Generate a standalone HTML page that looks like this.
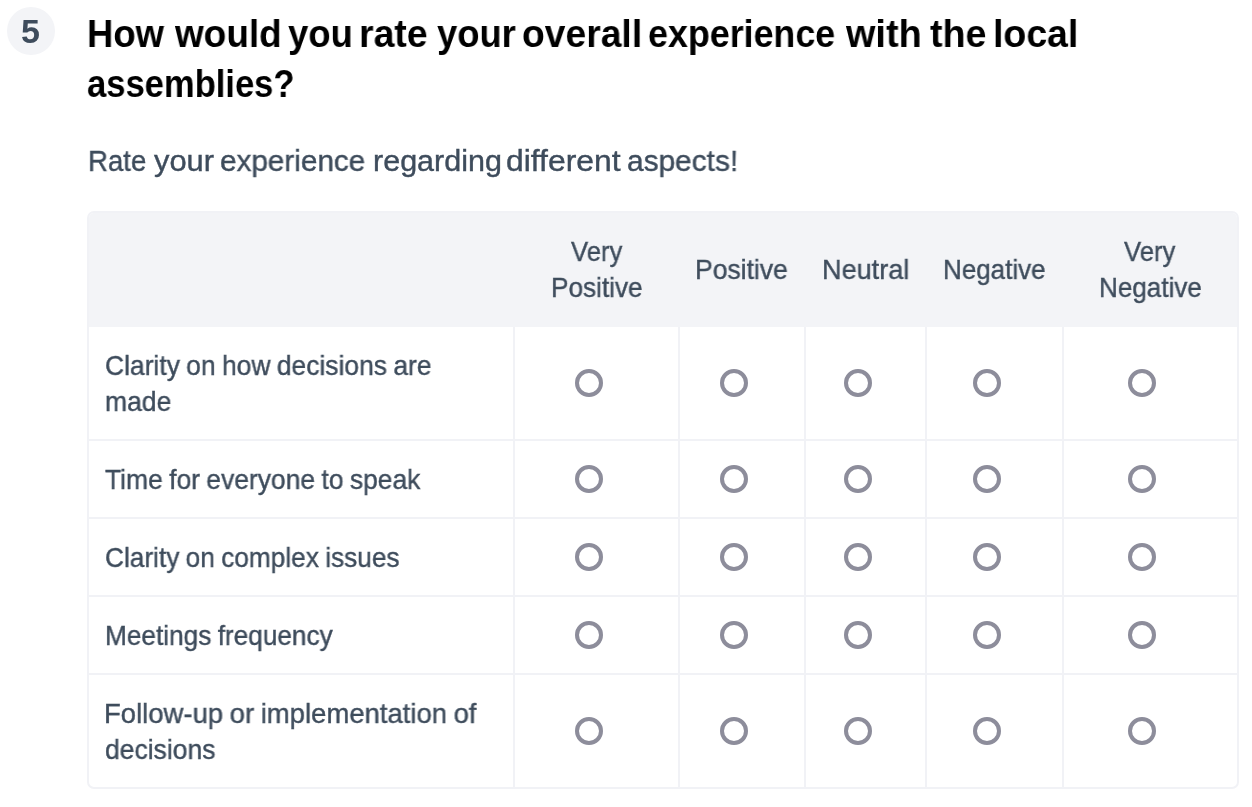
<!DOCTYPE html>
<html><head><meta charset="utf-8"><style>
html,body{margin:0;padding:0;background:#fff;width:1252px;height:807px;overflow:hidden;position:relative}
.t{position:absolute;white-space:nowrap;font-family:"Liberation Sans",sans-serif;transform-origin:0 0;-webkit-font-smoothing:antialiased;will-change:transform}
.n{-webkit-text-stroke:0.4px currentColor}
.b{position:absolute;background:#f1f2f6}
.r{position:absolute;width:28px;height:28px;box-sizing:border-box;border:4px solid #8d8d9b;border-radius:50%}
</style></head><body>
<div style="position:absolute;left:7px;top:7px;width:48px;height:48px;border-radius:50%;background:#f3f4f7"></div>
<div style="position:absolute;left:87px;top:211px;width:1152px;height:578px;box-sizing:border-box;border:2px solid #f1f2f6;border-radius:7px;overflow:hidden">
<div style="position:absolute;left:0;top:0;right:0;height:114px;background:#f3f4f7"></div>
</div>
<div class="b" style="left:513px;top:327px;width:2px;height:460px"></div>
<div class="b" style="left:678px;top:327px;width:2px;height:460px"></div>
<div class="b" style="left:804px;top:327px;width:2px;height:460px"></div>
<div class="b" style="left:925px;top:327px;width:2px;height:460px"></div>
<div class="b" style="left:1062px;top:327px;width:2px;height:460px"></div>
<div class="b" style="left:89px;top:439px;width:1148px;height:2px"></div>
<div class="b" style="left:89px;top:517px;width:1148px;height:2px"></div>
<div class="b" style="left:89px;top:595px;width:1148px;height:2px"></div>
<div class="b" style="left:89px;top:673px;width:1148px;height:2px"></div>
<div class="r" style="left:575.00px;top:369.00px"></div>
<div class="r" style="left:719.50px;top:369.00px"></div>
<div class="r" style="left:843.50px;top:369.00px"></div>
<div class="r" style="left:972.50px;top:369.00px"></div>
<div class="r" style="left:1128.00px;top:369.00px"></div>
<div class="r" style="left:575.00px;top:465.00px"></div>
<div class="r" style="left:719.50px;top:465.00px"></div>
<div class="r" style="left:843.50px;top:465.00px"></div>
<div class="r" style="left:972.50px;top:465.00px"></div>
<div class="r" style="left:1128.00px;top:465.00px"></div>
<div class="r" style="left:575.00px;top:543.00px"></div>
<div class="r" style="left:719.50px;top:543.00px"></div>
<div class="r" style="left:843.50px;top:543.00px"></div>
<div class="r" style="left:972.50px;top:543.00px"></div>
<div class="r" style="left:1128.00px;top:543.00px"></div>
<div class="r" style="left:575.00px;top:621.00px"></div>
<div class="r" style="left:719.50px;top:621.00px"></div>
<div class="r" style="left:843.50px;top:621.00px"></div>
<div class="r" style="left:972.50px;top:621.00px"></div>
<div class="r" style="left:1128.00px;top:621.00px"></div>
<div class="r" style="left:575.00px;top:717.00px"></div>
<div class="r" style="left:719.50px;top:717.00px"></div>
<div class="r" style="left:843.50px;top:717.00px"></div>
<div class="r" style="left:972.50px;top:717.00px"></div>
<div class="r" style="left:1128.00px;top:717.00px"></div>
<div id="five" class="t" style="left:20.70px;top:12.42px;font-size:34px;line-height:37.984px;font-weight:700;color:#3e4c5c;transform:scaleX(0.9753);word-spacing:0px">5</div>
<div id="t1_0" class="t" style="left:87.12px;top:11.69px;font-size:39px;line-height:43.570px;font-weight:700;color:#000;transform:scaleX(0.9341);word-spacing:0px">How</div>
<div id="t1_1" class="t" style="left:174.96px;top:11.69px;font-size:39px;line-height:43.570px;font-weight:700;color:#000;transform:scaleX(0.9474);word-spacing:0px">would</div>
<div id="t1_2" class="t" style="left:288.38px;top:11.69px;font-size:39px;line-height:43.570px;font-weight:700;color:#000;transform:scaleX(0.9349);word-spacing:0px">you</div>
<div id="t1_3" class="t" style="left:359.19px;top:11.69px;font-size:39px;line-height:43.570px;font-weight:700;color:#000;transform:scaleX(0.9602);word-spacing:0px">rate</div>
<div id="t1_4" class="t" style="left:437.38px;top:11.69px;font-size:39px;line-height:43.570px;font-weight:700;color:#000;transform:scaleX(0.9332);word-spacing:0px">your</div>
<div id="t1_5" class="t" style="left:522.25px;top:11.69px;font-size:39px;line-height:43.570px;font-weight:700;color:#000;transform:scaleX(0.9553);word-spacing:0px">overall</div>
<div id="t1_6" class="t" style="left:648.20px;top:11.69px;font-size:39px;line-height:43.570px;font-weight:700;color:#000;transform:scaleX(0.9185);word-spacing:0px">experience</div>
<div id="t1_7" class="t" style="left:846.06px;top:11.69px;font-size:39px;line-height:43.570px;font-weight:700;color:#000;transform:scaleX(0.9701);word-spacing:0px">with</div>
<div id="t1_8" class="t" style="left:930.10px;top:11.69px;font-size:39px;line-height:43.570px;font-weight:700;color:#000;transform:scaleX(0.9656);word-spacing:0px">the</div>
<div id="t1_9" class="t" style="left:993.41px;top:11.69px;font-size:39px;line-height:43.570px;font-weight:700;color:#000;transform:scaleX(0.9601);word-spacing:0px">local</div>
<div id="title2" class="t" style="left:87.40px;top:61.69px;font-size:39px;line-height:43.570px;font-weight:700;color:#000;transform:scaleX(0.8864);word-spacing:-3.9px">assemblies?</div>
<div id="sub_0" class="t n" style="left:87.58px;top:144.04px;font-size:30px;line-height:33.516px;font-weight:400;color:#3e4c5c;transform:scaleX(0.9189);word-spacing:0px">Rate</div>
<div id="sub_1" class="t n" style="left:153.71px;top:144.04px;font-size:30px;line-height:33.516px;font-weight:400;color:#3e4c5c;transform:scaleX(1.0279);word-spacing:0px">your</div>
<div id="sub_2" class="t n" style="left:220.40px;top:144.04px;font-size:30px;line-height:33.516px;font-weight:400;color:#3e4c5c;transform:scaleX(0.9895);word-spacing:0px">experience</div>
<div id="sub_3" class="t n" style="left:373.19px;top:144.04px;font-size:30px;line-height:33.516px;font-weight:400;color:#3e4c5c;transform:scaleX(1.017);word-spacing:0px">regarding</div>
<div id="sub_4" class="t n" style="left:506.00px;top:144.04px;font-size:30px;line-height:33.516px;font-weight:400;color:#3e4c5c;transform:scaleX(1.0623);word-spacing:0px">different</div>
<div id="sub_5" class="t n" style="left:627.00px;top:144.04px;font-size:30px;line-height:33.516px;font-weight:400;color:#3e4c5c;transform:scaleX(0.9947);word-spacing:0px">aspects!</div>
<div id="h2a" class="t n" style="left:571.08px;top:236.81px;font-size:27.6px;line-height:30.834px;font-weight:400;color:#3e4c5c;transform:scaleX(0.9287);word-spacing:-1px">Very</div>
<div id="h2b" class="t n" style="left:551.36px;top:272.81px;font-size:27.6px;line-height:30.834px;font-weight:400;color:#3e4c5c;transform:scaleX(0.9479);word-spacing:-1px">Positive</div>
<div id="h3" class="t n" style="left:695.40px;top:255.31px;font-size:27.6px;line-height:30.834px;font-weight:400;color:#3e4c5c;transform:scaleX(0.9605);word-spacing:-1px">Positive</div>
<div id="h4" class="t n" style="left:821.80px;top:255.31px;font-size:27.6px;line-height:30.834px;font-weight:400;color:#3e4c5c;transform:scaleX(0.9824);word-spacing:-1px">Neutral</div>
<div id="h5" class="t n" style="left:943.36px;top:255.31px;font-size:27.6px;line-height:30.834px;font-weight:400;color:#3e4c5c;transform:scaleX(0.9421);word-spacing:-1px">Negative</div>
<div id="h6a" class="t n" style="left:1124.48px;top:236.81px;font-size:27.6px;line-height:30.834px;font-weight:400;color:#3e4c5c;transform:scaleX(0.9287);word-spacing:-1px">Very</div>
<div id="h6b" class="t n" style="left:1099.26px;top:272.81px;font-size:27.6px;line-height:30.834px;font-weight:400;color:#3e4c5c;transform:scaleX(0.9444);word-spacing:-1px">Negative</div>
<div id="r1a" class="t n" style="left:104.80px;top:350.81px;font-size:27.6px;line-height:30.834px;font-weight:400;color:#3e4c5c;transform:scaleX(0.9573);word-spacing:-1px">Clarity on how decisions are</div>
<div id="r1b" class="t n" style="left:104.90px;top:386.81px;font-size:27.6px;line-height:30.834px;font-weight:400;color:#3e4c5c;transform:scaleX(0.9607);word-spacing:-1px">made</div>
<div id="r2" class="t n" style="left:104.82px;top:464.81px;font-size:27.6px;line-height:30.834px;font-weight:400;color:#3e4c5c;transform:scaleX(0.9576);word-spacing:-1px">Time for everyone to speak</div>
<div id="r3" class="t n" style="left:105.00px;top:542.81px;font-size:27.6px;line-height:30.834px;font-weight:400;color:#3e4c5c;transform:scaleX(0.9507);word-spacing:-1px">Clarity on complex issues</div>
<div id="r4" class="t n" style="left:105.16px;top:620.81px;font-size:27.6px;line-height:30.834px;font-weight:400;color:#3e4c5c;transform:scaleX(0.9495);word-spacing:-1px">Meetings frequency</div>
<div id="r5a" class="t n" style="left:104.00px;top:698.81px;font-size:27.6px;line-height:30.834px;font-weight:400;color:#3e4c5c;transform:scaleX(0.9954);word-spacing:-1px">Follow-up or implementation of</div>
<div id="r5b" class="t n" style="left:105.09px;top:734.81px;font-size:27.6px;line-height:30.834px;font-weight:400;color:#3e4c5c;transform:scaleX(0.9601);word-spacing:-1px">decisions</div>
</body></html>
